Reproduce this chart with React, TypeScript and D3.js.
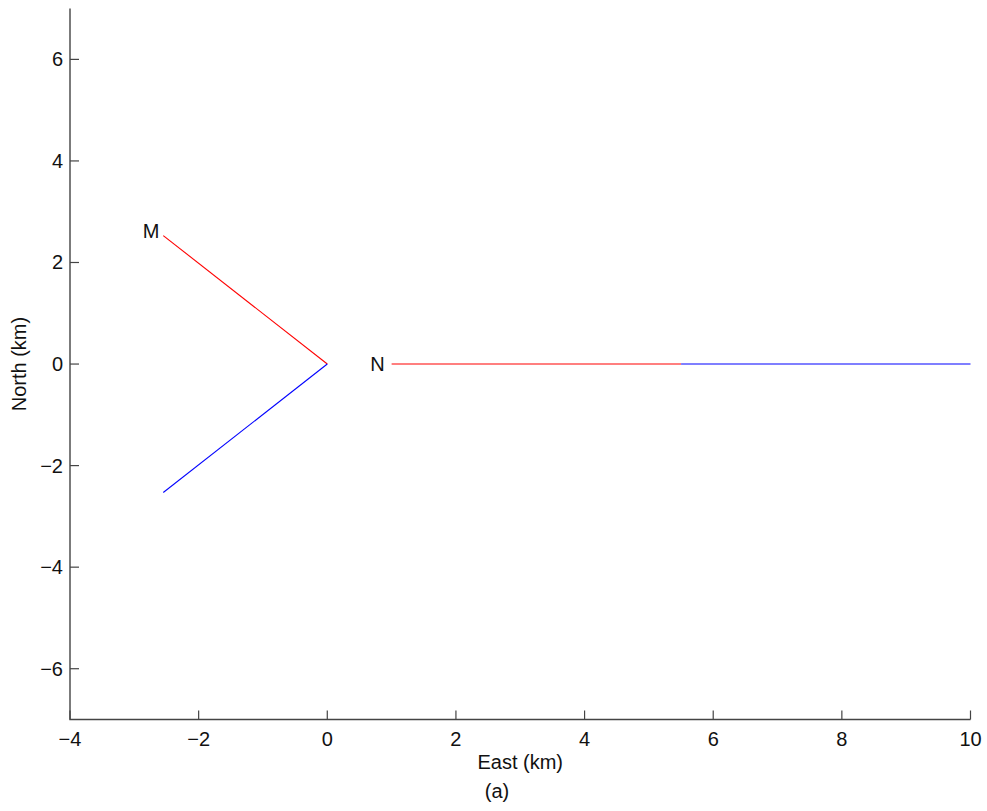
import React from 'react';
import * as d3 from 'd3';

// tick values for each axis
const xTicks = [-4, -2, 0, 2, 4, 6, 8, 10];
const yTicks = [-6, -4, -2, 0, 2, 4, 6];

// fault segments (East, North in km)
const redM = [[-2.55, 2.53], [0, 0]];
const blueM = [[0, 0], [-2.55, -2.53]];
const redN = [[1, 0], [5.5, 0]];
const blueN = [[5.5, 0], [10, 0]];

const labels = [
  { text: 'M', x: -2.74, y: 2.63 },
  { text: 'N', x: 0.78, y: 0 },
];

const W = 987;
const H = 811;
const left = 70, right = 970.5, top = 8.6, bottom = 719.5;
const font = '"Liberation Sans", Arial, Helvetica, sans-serif';
const fs = 20;

const App = () => {
  const x = d3.scaleLinear().domain([-4, 10]).range([left, right]);
  const y = d3.scaleLinear().domain([-7, 7]).range([bottom, top]);
  const line = d3.line<number[]>().x(d => x(d[0])).y(d => y(d[1]));

  const segs = [
    { d: redM, c: '#ff0000' },
    { d: blueM, c: '#0000ff' },
    { d: redN, c: '#ff0000' },
    { d: blueN, c: '#0000ff' },
  ];

  return (
    <svg width={W} height={H} style={{ position: 'absolute', left: 0, top: 0, background: '#fff' }}
      fontFamily={font}>
      {/* axes: left and bottom only */}
      <path d={`M${left},${top}V${bottom}H${right}`} fill="none" stroke="#444" strokeWidth={1.4} />
      {xTicks.map(t => (
        <g key={'x' + t}>
          <line x1={x(t)} x2={x(t)} y1={bottom} y2={bottom - 9} stroke="#444" strokeWidth={1.2} />
          <text x={x(t)} y={bottom + 26} textAnchor="middle" fontSize={fs} fill="#111">
            {t < 0 ? '\u2212' + Math.abs(t) : t}
          </text>
        </g>
      ))}
      {yTicks.map(t => (
        <g key={'y' + t}>
          <line x1={left} x2={left + 9} y1={y(t)} y2={y(t)} stroke="#444" strokeWidth={1.2} />
          <text x={left - 7} y={y(t)} dy="0.35em" textAnchor="end" fontSize={fs} fill="#111">
            {t < 0 ? '\u2212' + Math.abs(t) : t}
          </text>
        </g>
      ))}

      {segs.map((s, i) => (
        <path key={i} d={line(s.d) || ''} fill="none" stroke={s.c} strokeWidth={1.1} />
      ))}

      {labels.map(l => (
        <text key={l.text} x={x(l.x)} y={y(l.y)} dy="0.35em" textAnchor="middle" fontSize={fs} fill="#111">
          {l.text}
        </text>
      ))}

      <text x={(left + right) / 2} y={769} textAnchor="middle" fontSize={fs} fill="#111">East (km)</text>
      <text x={497} y={798} textAnchor="middle" fontSize={fs} fill="#111">(a)</text>
      <text transform={`translate(26,${y(0)}) rotate(-90)`} textAnchor="middle" fontSize={fs} fill="#111">
        North (km)
      </text>
    </svg>
  );
};

export default App;
